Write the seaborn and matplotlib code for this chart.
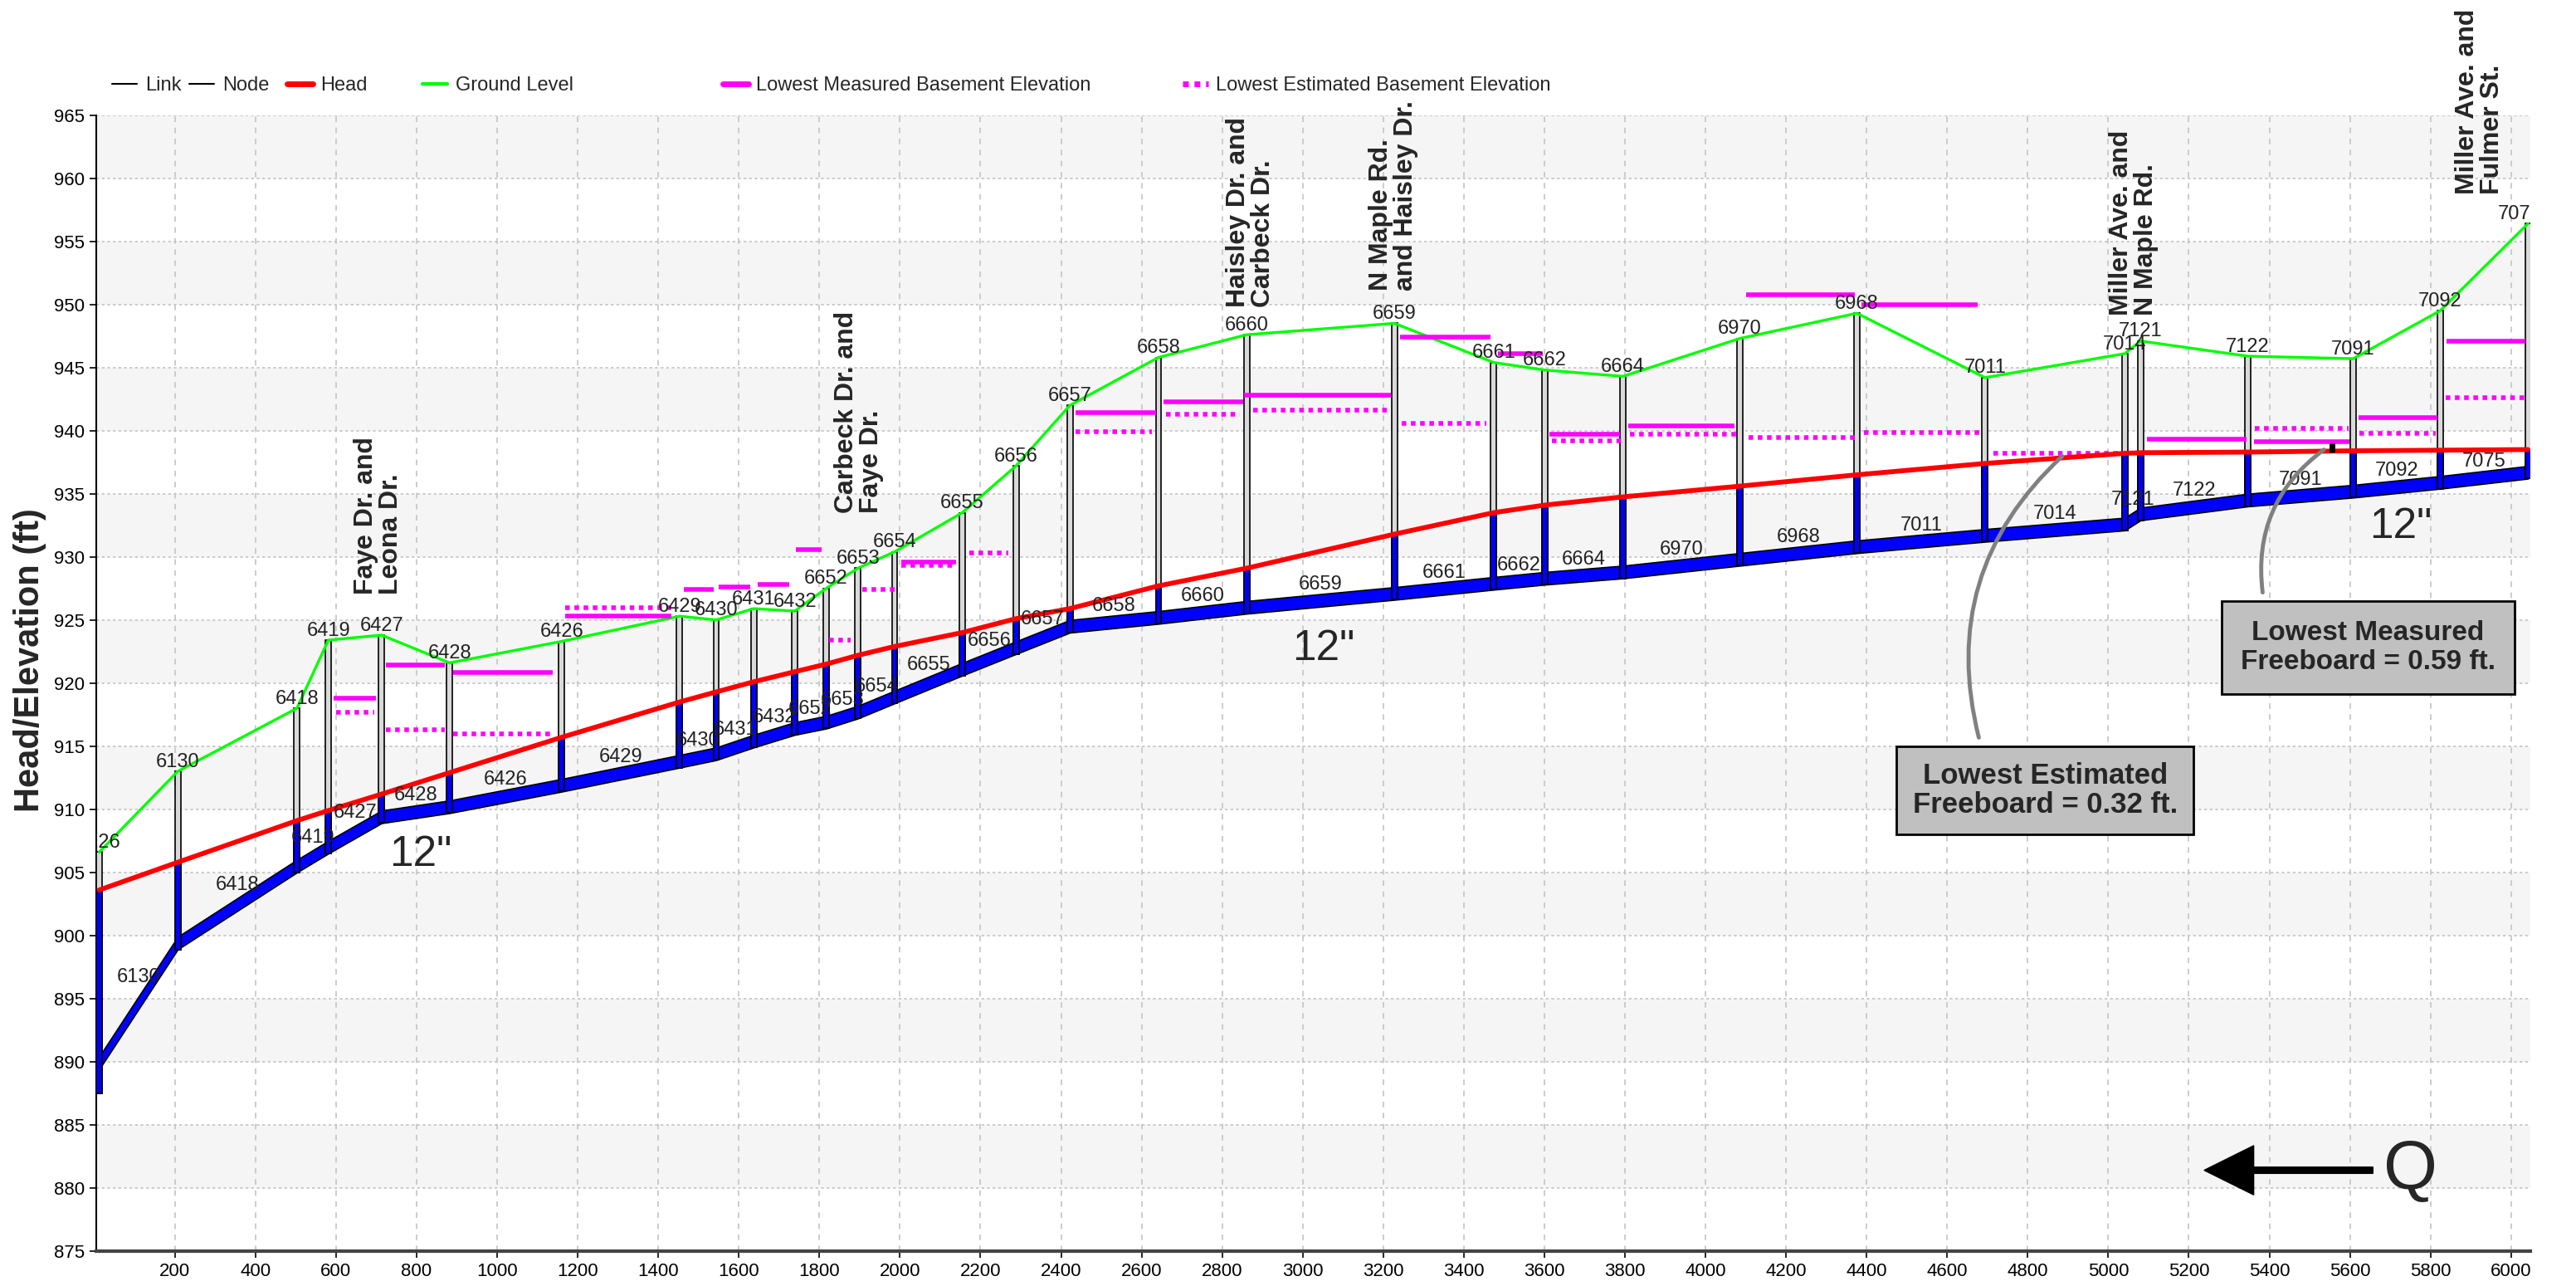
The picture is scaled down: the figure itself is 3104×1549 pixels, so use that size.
import numpy as np
import pandas as pd
import matplotlib
matplotlib.use("Agg")
import matplotlib.pyplot as plt
import seaborn as sns
from matplotlib.lines import Line2D

# ---------------- data ----------------
node_names = ["6126", "6130", "6418", "6419", "6427", "6428", "6426", "6429", "6430", "6431",
              "6432", "6652", "6653", "6654", "6655", "6656", "6657", "6658", "6660", "6659",
              "6661", "6662", "6664", "6970", "6968", "7011", "7014", "7121", "7122", "7091",
              "7092", "7075"]
node_x = [12, 207, 503, 581, 713, 882, 1160, 1453, 1544, 1637,
          1739, 1817, 1896, 1987, 2155, 2288, 2422, 2642, 2861, 3228,
          3474, 3601, 3795, 4085, 4376, 4694, 5041, 5080, 5346, 5608,
          5824, 6042]
ground = [906.6, 913.0, 918.0, 923.4, 923.8, 921.6, 923.3, 925.3, 925.0, 925.9,
          925.7, 927.5, 929.1, 930.4, 933.5, 937.2, 942.0, 945.8, 947.6, 948.5,
          945.4, 944.8, 944.3, 947.3, 949.3, 944.2, 946.1, 947.1, 945.9, 945.7,
          949.5, 956.4]
invert = [889.4, 898.9, 905.0, 906.5, 908.9, 909.7, 911.4, 913.3, 913.9, 914.9,
          915.9, 916.4, 917.2, 918.4, 920.6, 922.3, 924.0, 924.7, 925.5, 926.6,
          927.4, 927.8, 928.3, 929.3, 930.3, 931.2, 932.1, 932.9, 934.0, 934.7,
          935.4, 936.2]
node_floor = [887.5] + invert[1:]
head = [903.6, 905.8, 909.1, 909.9, 911.2, 912.9, 915.7, 918.5, 919.3, 920.1,
        920.9, 921.5, 922.2, 922.9, 924.0, 925.1, 925.9, 927.7, 929.1, 931.8,
        933.5, 934.1, 934.75, 935.6, 936.5, 937.4, 938.2, 938.25, 938.3, 938.4,
        938.45, 938.5]
pipe_diameter_ft = 1.0
link_names = ["6130", "6418", "6419", "6427", "6428", "6426", "6429", "6430", "6431", "6432",
              "6652", "6653", "6654", "6655", "6656", "6657", "6658", "6660", "6659", "6661",
              "6662", "6664", "6970", "6968", "7011", "7014", "7121", "7122", "7091", "7092",
              "7075"]

meas_x0 = [595, 724, 891, 1168, 1464, 1551, 1647, 1741, 2004, 2437, 2655, 2855, 3242, 3484,
           3612, 3809, 4101, 4388, 5096, 5361, 5622, 5840]
meas_x1 = [700, 871, 1139, 1432, 1537, 1628, 1726, 1806, 2140, 2635, 2853, 3218, 3466, 3597,
           3788, 4071, 4371, 4676, 5344, 5598, 5818, 6036]
meas_y = [918.8, 921.4, 920.85, 925.3, 927.4, 927.6, 927.8, 930.6, 929.6, 941.4, 942.3, 942.8,
          947.4, 946.1, 939.7, 940.4, 950.8, 950.0, 939.3, 939.1, 941.0, 947.1]

est_x0 = [600, 724, 891, 1168, 1825, 1907, 2004, 2172, 2437, 2660, 2877, 3245, 3618, 3812,
          4106, 4393, 4715, 5364, 5624, 5838]
est_x1 = [695, 871, 1139, 1432, 1877, 1986, 2140, 2270, 2625, 2845, 3210, 3455, 3800, 4077,
          4371, 4682, 5030, 5596, 5814, 6042]
est_y = [917.7, 916.3, 916.0, 926.0, 923.4, 927.4, 929.3, 930.3, 939.9, 941.3, 941.6, 940.55,
         939.2, 939.7, 939.45, 939.85, 938.2, 940.15, 939.8, 942.6]

street_labels = ["Faye Dr. and\nLeona Dr.", "Carbeck Dr. and\nFaye Dr.",
                 "Haisley Dr. and\nCarbeck Dr.", "N Maple Rd.\nand Haisley Dr.",
                 "Miller Ave. and\nN Maple Rd.", "Miller Ave. and\nFulmer St."]
street_x = [705, 1898, 2871, 3226, 5063, 5922]
street_y = [927.0, 933.5, 949.8, 951.1, 949.1, 958.75]

pipe_size_labels = ['12"', '12"', '12"']
pipe_size_x = [810, 3051, 5727]
pipe_size_y = [906.4, 922.7, 932.4]

est_box_text = "Lowest Estimated\nFreeboard = 0.32 ft."
meas_box_text = "Lowest Measured\nFreeboard = 0.59 ft."
est_point = (4890, 938.1)
meas_point = (5540, 938.6)
meas_marker = (5556, 938.3, 939.0)

x_ticks = list(range(200, 6001, 200))
y_ticks = list(range(875, 966, 5))

# ---------------- style ----------------
sns.set_theme(style="white")
ARIAL = ["Liberation Sans", "DejaVu Sans"]
plt.rcParams["font.family"] = ARIAL

fig = plt.figure(figsize=(31.04, 15.49), dpi=100)
ax = fig.add_axes([0.0374, 0.0272, 0.9449, 0.8833])

XMIN, XMAX = 5, 6048
ax.set_xlim(XMIN, XMAX)
ax.set_ylim(875, 965)

# alternating bands
for b in range(880, 965, 10):
    ax.axhspan(b, b + 5, color="#f5f5f5", zorder=0, lw=0)

ax.set_axisbelow(True)
ax.xaxis.grid(True, color="#c4c4c4", linestyle=(0, (4, 4)), lw=1.2)
ax.yaxis.grid(True, color="#c4c4c4", linestyle=(0, (2, 2)), lw=1.2)

nx = np.array(node_x, float)
inv = np.array(invert)
crown = inv + pipe_diameter_ft
gr = np.array(ground)
hd = np.array(head)
fl = np.array(node_floor)

# pipe band
ax.fill_between(nx, inv, crown, facecolor="#0000ff", edgecolor="black", lw=1.2, zorder=3)

# nodes
w = 14
ax.bar(nx, gr - fl, bottom=fl, width=w, facecolor="#d9d9d9", edgecolor="black", lw=1.2, zorder=4)
ax.bar(nx, hd - fl, bottom=fl, width=w, facecolor="#0000ff", edgecolor="black", lw=1.2, zorder=5)

df = pd.DataFrame({"x": nx, "ground": gr, "head": hd})
sns.lineplot(data=df, x="x", y="ground", ax=ax, color="#00ff00", lw=2.4, sort=False,
             estimator=None, legend=False, zorder=6)
sns.lineplot(data=df, x="x", y="head", ax=ax, color="#ff0000", lw=4.2, sort=False,
             estimator=None, legend=False, zorder=7)

ax.hlines(meas_y, meas_x0, meas_x1, color="#ff00ff", lw=4, zorder=6)
ax.hlines(est_y, est_x0, est_x1, color="#ff00ff", lw=4, linestyles=[(0, (1, 1))], zorder=6)

# node labels
for name, x, g in zip(node_names, nx, gr):
    lx = min(x, XMAX - 27)
    ax.text(lx, g + 0.75, name, ha="center", va="center", fontsize=17, color="#222222",
            clip_on=True, zorder=9)

# link labels
for i, name in enumerate(link_names):
    x0, x1 = nx[i], nx[i + 1]
    c0, c1 = crown[i], crown[i + 1]
    ratio = abs(c1 - c0) * 15.2 / ((x1 - x0) * 0.486)
    ax.text((x0 + x1) / 2, (c0 + c1) / 2 + 0.7 + 0.55 * ratio, name, ha="center", va="center",
            fontsize=17, color="#222222", clip_on=True, zorder=9)

# street labels
for s, x, y in zip(street_labels, street_x, street_y):
    ax.text(x, y, s, rotation=90, ha="center", va="bottom", multialignment="left",
            fontsize=23, fontweight="bold", linespacing=1.0,
            clip_on=False, zorder=10)

for s, x, y in zip(pipe_size_labels, pipe_size_x, pipe_size_y):
    ax.text(x, y, s, ha="center", va="center", fontsize=37, zorder=10)

# callouts
ax.annotate("", xy=est_point, xytext=(4680, 915.5),
            arrowprops=dict(arrowstyle="-", color="#808080", lw=3.5,
                            connectionstyle="arc3,rad=-0.3"), zorder=10)
ax.annotate("", xy=meas_point, xytext=(5384, 927.0),
            arrowprops=dict(arrowstyle="-", color="#808080", lw=3.5,
                            connectionstyle="arc3,rad=-0.3"), zorder=10)
ax.vlines(meas_marker[0], meas_marker[1], meas_marker[2], color="black", lw=5, zorder=11)

ax.text(4843, 911.5, est_box_text, ha="center", va="center", fontsize=25, fontweight="bold",
        linespacing=1.1, zorder=12,
        bbox=dict(boxstyle="square,pad=0.55", fc="#c0c0c0", ec="black", lw=2))
ax.text(5645, 922.8, meas_box_text, ha="center", va="center", fontsize=24, fontweight="bold",
        linespacing=1.15, zorder=12, clip_on=False,
        bbox=dict(boxstyle="square,pad=0.7", fc="#c0c0c0", ec="black", lw=2))

# flow arrow
ax.arrow(5657, 881.4, -419, 0, width=0.5, head_width=3.9, head_length=123,
         length_includes_head=True, color="black", zorder=10)
ax.text(5751, 881.4, "Q", ha="center", va="center", fontsize=60, zorder=10)

# axes
ax.set_xticks(x_ticks)
ax.set_yticks(y_ticks)
ax.tick_params(axis="both", labelsize=16, length=6, width=1.2, pad=4, colors="black",
               direction="out", bottom=True, left=True)
for s in ["top", "right"]:
    ax.spines[s].set_visible(False)
ax.spines["left"].set_color("black")
ax.spines["left"].set_linewidth(1.5)
ax.spines["bottom"].set_color("#444444")
ax.spines["bottom"].set_linewidth(3)
ax.set_xlabel("")
ax.set_ylabel("Head/Elevation (ft)", fontsize=30, fontweight="bold")
ax.yaxis.set_label_coords(-0.0205, 0.52)

# legend (each entry positioned like the original)
entries = [
    (Line2D([], [], color="black", lw=1.5), "Link", 0.0434),
    (Line2D([], [], color="black", lw=1.5), "Node", 0.0733),
    (Line2D([], [], color="#ff0000", lw=5), "Head", 0.1116),
    (Line2D([], [], color="#00ff00", lw=3), "Ground Level", 0.1639),
    (Line2D([], [], color="#ff00ff", lw=5), "Lowest Measured Basement Elevation", 0.2806),
    (Line2D([], [], color="#ff00ff", lw=5, linestyle=(0, (1, 1))),
     "Lowest Estimated Basement Elevation", 0.4592),
]
for h, lab, fx in entries:
    fig.legend(handles=[h], labels=[lab], loc="center left", bbox_to_anchor=(fx, 0.9335),
               frameon=False, borderpad=0, borderaxespad=0, handlelength=1.3,
               handletextpad=0.4, fontsize=17)

fig.savefig("out.png", dpi=100)
